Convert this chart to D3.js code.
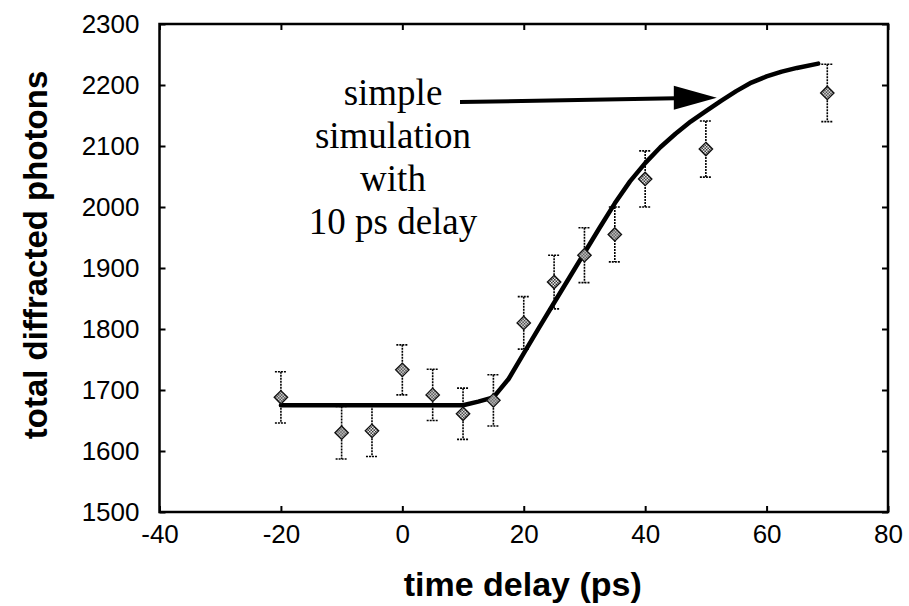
<!DOCTYPE html>
<html>
<head>
<meta charset="utf-8">
<script src="https://cdn.jsdelivr.net/npm/d3@7"></script>
<style>
  html, body { margin: 0; padding: 0; background: #fff; }
  svg { display: block; }
</style>
</head>
<body>
<div id="chart"></div>
<script>
// ---- data ----
const timeDelay = [-20, -10, -5, 0, 5, 10, 15, 20, 25, 30, 35, 40, 50, 70];
const photons   = [1688, 1630, 1633, 1733, 1692, 1661, 1683, 1810, 1877, 1921, 1955, 2046, 2095, 2187];
const errors    = [42, 43, 42, 41, 42, 42, 42, 43, 44, 45, 45, 46, 46, 47];

const simTime    = [-20, 10, 12.5, 15, 17.5, 20, 22.5, 25, 27.5, 30, 32.5, 35, 37.5, 40, 42.5, 45, 47.5, 50, 52.5, 55, 57.5, 60, 62.5, 65, 68.5];
const simPhotons = [1675, 1675, 1681, 1688, 1718, 1760, 1802, 1843, 1884, 1925, 1966, 2006, 2042, 2072, 2098, 2120, 2140, 2157, 2174, 2190, 2204, 2214, 2222, 2228, 2235];

const xTicks = [-40, -20, 0, 20, 40, 60, 80];
const yTicks = [1500, 1600, 1700, 1800, 1900, 2000, 2100, 2200, 2300];

const annotationLines = ["simple", "simulation", "with", "10 ps delay"];
const arrowFrom = [9.5, 2172];
const arrowTo   = [51.8, 2179];

const xTitle = "time delay (ps)";
const yTitle = "total diffracted photons";

// ---- layout ----
const W = 909, H = 606;
const L = 159.5, R = 888, T = 24, B = 512;

const svg = d3.select("#chart").append("svg").attr("width", W).attr("height", H);

const x = d3.scaleLinear().domain([-40, 80]).range([L, R]);
const y = d3.scaleLinear().domain([1500, 2300]).range([B, T]);

// pattern for markers
const defs = svg.append("defs");
const pat = defs.append("pattern").attr("id", "chk").attr("patternUnits", "userSpaceOnUse")
  .attr("width", 3).attr("height", 3);
pat.append("rect").attr("width", 3).attr("height", 3).attr("fill", "#fff");
pat.append("rect").attr("width", 1.5).attr("height", 1.5).attr("fill", "#222");
pat.append("rect").attr("x", 1.5).attr("y", 1.5).attr("width", 1.5).attr("height", 1.5).attr("fill", "#222");

// frame
svg.append("rect").attr("x", L).attr("y", T).attr("width", R - L).attr("height", B - T)
  .attr("fill", "none").attr("stroke", "#000").attr("stroke-width", 2.5);

// axes (ticks inward)
const fontAx = "'Liberation Sans', Arial, sans-serif";
const fmt = d => String(d);
const gxB = svg.append("g").attr("transform", `translate(0,${B})`)
  .call(d3.axisBottom(x).tickValues(xTicks).tickSize(-6).tickPadding(13).tickFormat(fmt));
const gxT = svg.append("g").attr("transform", `translate(0,${T})`)
  .call(d3.axisTop(x).tickValues(xTicks).tickSize(-6).tickFormat(""));
const gyL = svg.append("g").attr("transform", `translate(${L},0)`)
  .call(d3.axisLeft(y).tickValues(yTicks).tickSize(-6).tickPadding(20).tickFormat(fmt));
const gyR = svg.append("g").attr("transform", `translate(${R},0)`)
  .call(d3.axisRight(y).tickValues(yTicks).tickSize(-6).tickFormat(""));
[gxB, gxT, gyL, gyR].forEach(g => {
  g.select(".domain").remove();
  g.selectAll(".tick line").attr("stroke", "#000").attr("stroke-width", 2);
  g.selectAll(".tick text").attr("fill", "#000").attr("font-family", fontAx).attr("font-size", 26);
});
gxB.selectAll(".tick text").attr("dy", "0.71em");

// axis titles
svg.append("text").attr("x", (L + R) / 2 - 1).attr("y", 596)
  .attr("text-anchor", "middle").attr("font-family", fontAx).attr("font-weight", "bold")
  .attr("font-size", 34).text(xTitle);
svg.append("text").attr("transform", `translate(47,${(T + B) / 2 - 13}) rotate(-90)`)
  .attr("text-anchor", "middle").attr("font-family", fontAx).attr("font-weight", "bold")
  .attr("font-size", 33).text(yTitle);

// simulation curve
const line = d3.line().x((d, i) => x(simTime[i])).y((d, i) => y(simPhotons[i]));
svg.append("path").datum(simTime).attr("d", line)
  .attr("fill", "none").attr("stroke", "#000").attr("stroke-width", 4.5)
  .attr("stroke-linejoin", "round").attr("stroke-linecap", "round");

// error bars
const pts = timeDelay.map((t, i) => ({ t, v: photons[i], e: errors[i] }));
const eb = svg.append("g").selectAll("g").data(pts).join("g");
eb.append("line")
  .attr("x1", d => x(d.t)).attr("x2", d => x(d.t))
  .attr("y1", d => y(d.v + d.e)).attr("y2", d => y(d.v - d.e))
  .attr("stroke", "#000").attr("stroke-width", 1.6).attr("stroke-dasharray", "2,1");
["+", "-"].forEach(s => {
  eb.append("line")
    .attr("x1", d => x(d.t) - 6).attr("x2", d => x(d.t) + 6)
    .attr("y1", d => y(s === "+" ? d.v + d.e : d.v - d.e))
    .attr("y2", d => y(s === "+" ? d.v + d.e : d.v - d.e))
    .attr("stroke", "#000").attr("stroke-width", 1.6).attr("stroke-dasharray", "2,1");
});

// markers
const sym = d3.symbol().type(d3.symbolDiamond2).size(115);
svg.append("g").selectAll("path").data(pts).join("path")
  .attr("transform", d => `translate(${x(d.t)},${y(d.v)})`)
  .attr("d", sym)
  .attr("fill", "url(#chk)").attr("stroke", "#111").attr("stroke-width", 1.3);

// annotation text
const serif = "'Liberation Serif', 'Times New Roman', serif";
svg.append("g").selectAll("text").data(annotationLines).join("text")
  .attr("x", 393).attr("y", (d, i) => 105 + i * 43)
  .attr("text-anchor", "middle").attr("font-family", serif).attr("font-size", 37)
  .attr("fill", "#000").text(d => d);

// arrow
const ax0 = x(arrowFrom[0]), ay0 = y(arrowFrom[1]);
const ax1 = x(arrowTo[0]), ay1 = y(arrowTo[1]);
const headLen = 43, headHalf = 12;
svg.append("line").attr("x1", ax0).attr("y1", ay0).attr("x2", ax1 - headLen + 2).attr("y2", ay1 + 0.5)
  .attr("stroke", "#000").attr("stroke-width", 4);
svg.append("path")
  .attr("d", `M${ax1},${ay1} L${ax1 - headLen},${ay1 - headHalf} L${ax1 - headLen},${ay1 + headHalf} Z`)
  .attr("fill", "#000");
</script>
</body>
</html>
